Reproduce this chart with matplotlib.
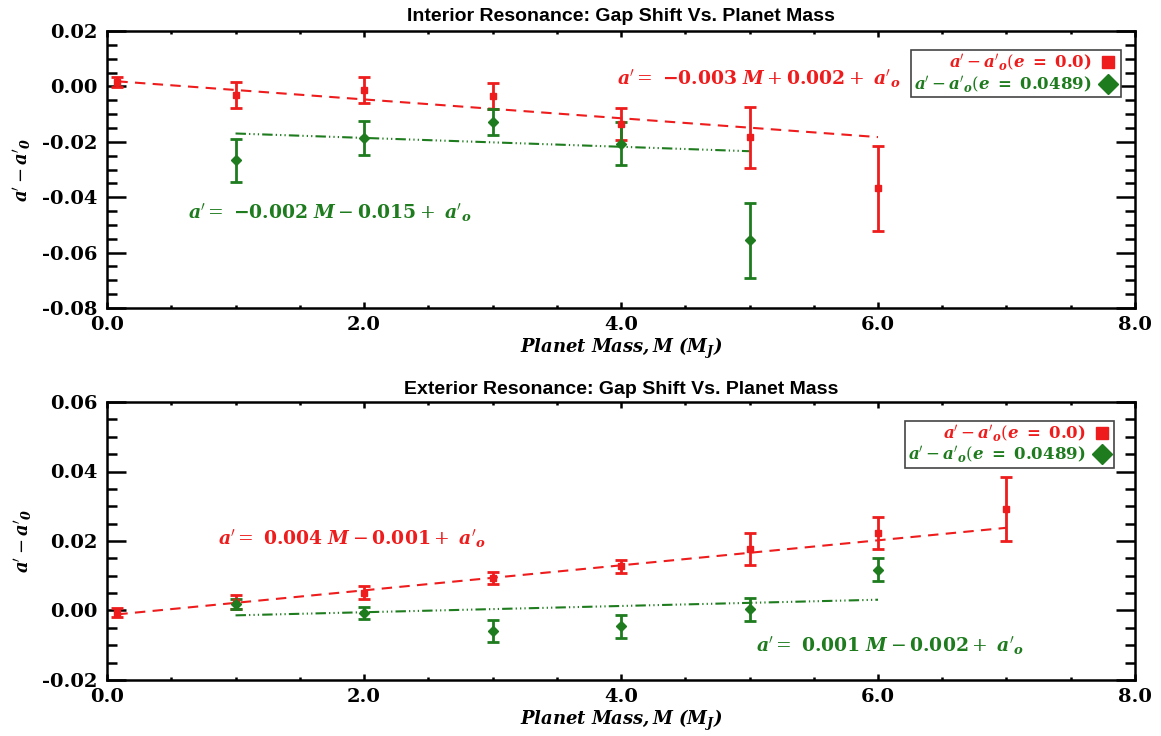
import numpy as np
import matplotlib
matplotlib.use('Agg')
import matplotlib.pyplot as plt
from matplotlib.lines import Line2D
from matplotlib.ticker import MultipleLocator, FormatStrFormatter

plt.rcParams['mathtext.fontset'] = 'dejavuserif'

RED = '#ee1c1c'
GREEN = '#1e7b1e'

# Interior resonance
int_m_e0 = [0.08, 1, 2, 3, 4, 5, 6]
int_da_e0 = [0.0016, -0.0031, -0.0013, -0.0033, -0.0135, -0.0184, -0.0368]
int_err_e0 = [0.0017, 0.0047, 0.0048, 0.0047, 0.0057, 0.0109, 0.0154]
int_m_e1 = [1, 2, 3, 4, 5]
int_da_e1 = [-0.0267, -0.0187, -0.0127, -0.0207, -0.0556]
int_err_e1 = [0.0077, 0.0062, 0.0047, 0.0077, 0.0135]
int_fit_e0 = (-0.0034, 0.0021)   # slope, intercept
int_fit_e1 = (-0.0016, -0.0154)

# Exterior resonance
ext_m_e0 = [0.08, 1, 2, 3, 4, 5, 6, 7]
ext_da_e0 = [-0.0007, 0.0024, 0.0051, 0.0094, 0.0127, 0.0178, 0.0224, 0.0291]
ext_err_e0 = [0.0013, 0.0020, 0.0019, 0.0018, 0.0018, 0.0046, 0.0046, 0.0092]
ext_m_e1 = [1, 2, 3, 4, 5, 6]
ext_da_e1 = [0.0018, -0.0008, -0.0060, -0.0046, 0.0003, 0.0117]
ext_err_e1 = [0.0015, 0.0017, 0.0032, 0.0032, 0.0032, 0.0033]
ext_fit_e0 = (0.0036, -0.0014)
ext_fit_e1 = (0.0009, -0.0023)

A = r"\mathbfit{a}'"
A0 = r"\mathbfit{a}'_{\mathbfit{o}}"


def fit_label(slope, icept):
    sign = '+' if icept >= 0 else '-'
    return (r"$%s =\ \mathbf{%.3f}\ \mathbfit{M} %s \mathbf{%.3f} +\ %s$"
            % (A, slope, sign, abs(icept), A0))


def panel(ax, m0, d0, e0, m1, d1, e1, fit0, fit1, ylim, ymajor, title,
          title_pad, txt0, txt1, leg_anchor):
    ax.errorbar(m0, d0, yerr=e0, fmt='s', color=RED, ms=5, elinewidth=2,
                capsize=4.5, capthick=2, zorder=3)
    ax.errorbar(m1, d1, yerr=e1, fmt='D', color=GREEN, ms=5.5, elinewidth=2,
                capsize=4.5, capthick=2, zorder=3)

    x0 = np.array([m0[0], m0[-1]])
    ax.plot(x0, fit0[0] * x0 + fit0[1], color=RED, lw=1.5,
            linestyle=(0, (5, 3.5)), zorder=2)
    x1 = np.array([m1[0], m1[-1]])
    ax.plot(x1, fit1[0] * x1 + fit1[1], color=GREEN, lw=1.5,
            linestyle=(0, (5, 1.5, 0.6, 1.5, 0.6, 1.5, 0.6, 1.5)), zorder=2)

    ax.text(txt0[0], txt0[1], fit_label(*fit0), color=RED, fontsize=13.5,
            va='center')
    ax.text(txt1[0], txt1[1], fit_label(*fit1), color=GREEN, fontsize=13.5,
            va='center')

    ax.set_xlim(0, 8)
    ax.set_ylim(*ylim)
    ax.xaxis.set_major_locator(MultipleLocator(2))
    ax.xaxis.set_minor_locator(MultipleLocator(0.5))
    ax.yaxis.set_major_locator(MultipleLocator(ymajor))
    ax.yaxis.set_minor_locator(MultipleLocator(0.005))
    ax.xaxis.set_major_formatter(FormatStrFormatter('%.1f'))
    ax.yaxis.set_major_formatter(FormatStrFormatter('%.2f'))
    ax.tick_params(which='both', direction='in', top=True, right=True,
                   labelsize=14, width=1.8)
    ax.tick_params(axis='y', which='major', length=14, pad=7)
    ax.tick_params(axis='y', which='minor', length=7.5)
    ax.tick_params(axis='x', which='major', length=4, pad=6)
    ax.tick_params(axis='x', which='minor', length=2)
    for lab in ax.get_xticklabels() + ax.get_yticklabels():
        lab.set_fontfamily('DejaVu Serif')
        lab.set_fontweight('bold')
    for sp in ax.spines.values():
        sp.set_linewidth(1.8)

    ax.set_title(title, fontsize=14, fontweight='bold',
                 family='Liberation Sans', pad=title_pad)
    ax.set_xlabel(r"$\mathbfit{Planet\ Mass, M\ (M_J)}$", fontsize=13,
                  labelpad=1)
    ax.set_ylabel(r"$%s - \mathbfit{a}'_{\mathbfit{0}}$" % A, fontsize=13,
                  labelpad=6)

    handles = [Line2D([], [], ls='none', marker='s', color=RED, ms=9),
               Line2D([], [], ls='none', marker='D', color=GREEN, ms=10)]
    labels = [r"$%s - %s(\mathbfit{e}\ \mathbf{=\ 0.0)}$" % (A, A0),
              r"$%s - %s(\mathbfit{e}\ \mathbf{=\ 0.0489)}$" % (A, A0)]
    leg = ax.legend(handles, labels, loc='upper right',
                    bbox_to_anchor=leg_anchor, markerfirst=False,
                    fontsize=12, frameon=True, fancybox=False,
                    edgecolor='#444444', framealpha=1, handlelength=1.2,
                    handletextpad=0.4, borderpad=0.15, labelspacing=0.05,
                    borderaxespad=0)
    leg.get_frame().set_linewidth(1.2)
    for t, c in zip(leg.get_texts(), [RED, GREEN]):
        t.set_color(c)


fig = plt.figure(figsize=(11.61, 7.36), dpi=100)
ax1 = fig.add_axes([0.0922, 0.5815, 0.8854, 0.3764])
ax2 = fig.add_axes([0.0922, 0.0761, 0.8854, 0.3777])

panel(ax1, int_m_e0, int_da_e0, int_err_e0, int_m_e1, int_da_e1, int_err_e1,
      int_fit_e0, int_fit_e1, (-0.08, 0.02), 0.02,
      'Interior Resonance: Gap Shift Vs. Planet Mass', 7,
      (3.97, 0.0027), (0.63, -0.0456), (0.986, 0.931))
panel(ax2, ext_m_e0, ext_da_e0, ext_err_e0, ext_m_e1, ext_da_e1, ext_err_e1,
      ext_fit_e0, ext_fit_e1, (-0.02, 0.06), 0.02,
      'Exterior Resonance: Gap Shift Vs. Planet Mass', 6,
      (0.86, 0.0207), (5.05, -0.0101), (0.98, 0.933))

fig.savefig('out.png', dpi=100)
